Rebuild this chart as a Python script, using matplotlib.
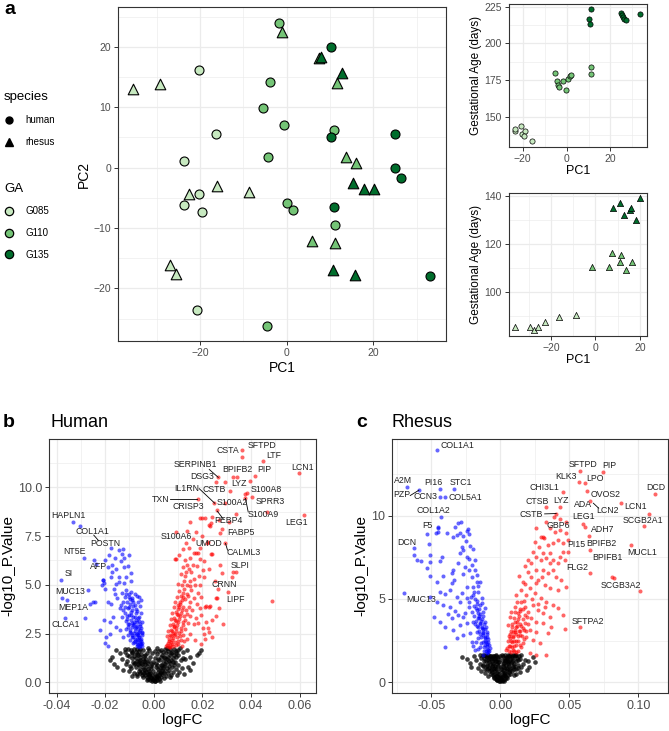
import numpy as np
import matplotlib
matplotlib.use("Agg")
import matplotlib.pyplot as plt
from matplotlib.lines import Line2D
from matplotlib.ticker import MultipleLocator, FormatStrFormatter

plt.rcParams['font.family'] = ['Liberation Sans', 'DejaVu Sans']

# ---------------- panel a: PCA ----------------
ga_levels = ['G085', 'G110', 'G135']
ga_colors = {'G085': '#c7e9c0', 'G110': '#74c476', 'G135': '#006d2c'}

human_pc1 = {
    'G085': [-20.2, -16.4, -23.7, -20.2, -23.7, -19.6, -20.8],
    'G110': [-1.9, -3.8, -5.5, -0.6, -4.3, 0.1, 1.5, 11.0, 11.2, -4.5],
    'G135': [10.2, 10.2, 11.0, 25.1, 25.0, 26.4, 33.2],
}
human_pc2 = {
    'G085': [16.2, 5.5, 1.1, -4.4, -6.2, -7.3, -23.6],
    'G110': [24.0, 14.2, 9.9, 7.0, 1.8, -5.9, -7.0, 6.2, -9.5, -26.2],
    'G135': [19.9, 5.0, -6.5, 5.5, -0.1, -1.7, -18.0],
}
rhesus_pc1 = {
    'G085': [-35.5, -29.2, -22.5, -16.2, -8.8, -26.9, -25.5],
    'G110': [-1.2, 7.4, 11.5, 13.6, 16.0, 5.9, 11.1],
    'G135': [7.8, 12.7, 15.2, 17.9, 20.2, 10.8, 15.7],
}
rhesus_pc2 = {
    'G085': [13.0, 13.8, -4.3, -3.0, -4.1, -16.1, -17.6],
    'G110': [22.5, 18.1, 14.0, 1.8, 0.7, -12.2, -12.5],
    'G135': [18.3, 15.6, -2.5, -3.5, -3.5, -17.0, -17.8],
}

# gestational age vs PC1 (separate species PCA)
hs_ga_pc1 = {
    'G085': [-23.7, -23.4, -20.6, -20.2, -19.1, -19.5, -16.0],
    'G110': [-5.3, -4.4, -4.0, -3.4, -1.8, -0.5, 0.5, 1.5, 2.1, 11.3, 11.3],
    'G135': [11.3, 10.4, 10.7, 25.0, 25.3, 25.6, 26.3, 26.9, 33.6],
}
hs_ga_days = {
    'G085': [140.5, 142.0, 144.1, 138.6, 140.5, 137.0, 133.6],
    'G110': [180.0, 174.3, 171.6, 170.5, 174.1, 168.6, 176.1, 177.7, 178.4, 184.1, 179.1],
    'G135': [223.2, 216.4, 213.2, 220.5, 219.1, 217.7, 216.6, 215.9, 220.0],
}
rh_ga_pc1 = {
    'G085': [-36.2, -29.6, -27.5, -25.9, -22.9, -16.6, -8.9],
    'G110': [-1.4, 5.9, 7.4, 11.6, 11.2, 13.9, 16.4],
    'G135': [7.8, 10.9, 12.7, 15.4, 16.0, 18.3, 20.2],
}
rh_ga_days = {
    'G085': [85.6, 85.6, 84.4, 85.4, 87.5, 89.6, 90.6],
    'G110': [110.4, 110.4, 116.5, 115.6, 112.5, 109.4, 112.5],
    'G135': [135.3, 137.2, 132.4, 134.4, 135.3, 130.3, 139.3],
}

# ---------------- panel b: human volcano ----------------
human_down = [
    (-0.0332, 8.20), (-0.0302, 8.03), (-0.0287, 6.40), (-0.0382, 5.26), (-0.0269, 4.73),
    (-0.0376, 4.30), (-0.0356, 4.21), (-0.0364, 3.32), (-0.0283, 3.30), (-0.0248, 6.27),
    (-0.0236, 6.05), (-0.0209, 5.27), (-0.0205, 5.07), (-0.0250, 4.13), (-0.0203, 3.20),
    (-0.0195, 2.33), (-0.0187, 1.88),
    (-0.0174, 6.90), (-0.0143, 6.78), (-0.0126, 6.83), (-0.0132, 6.58), (-0.0102, 6.52),
    (-0.0121, 6.35), (-0.0202, 6.27), (-0.0172, 6.01), (-0.0154, 5.79), (-0.0124, 5.89),
    (-0.0095, 5.62), (-0.0170, 5.67), (-0.0209, 5.24), (-0.0213, 4.98), (-0.0178, 5.41),
    (-0.0143, 5.15), (-0.0122, 5.10), (-0.0092, 5.21), (-0.0165, 4.81), (-0.0113, 4.73),
    (-0.0092, 4.64), (-0.0078, 4.52), (-0.0115, 4.52), (-0.0104, 4.35), (-0.0088, 4.30),
    (-0.0070, 4.42), (-0.0060, 4.38), (-0.0054, 4.21), (-0.0099, 4.04), (-0.0084, 4.11),
    (-0.0065, 4.13), (-0.0055, 3.92), (-0.0074, 3.78), (-0.0091, 3.70), (-0.0126, 3.70),
    (-0.0140, 3.80), (-0.0178, 4.04), (-0.0202, 4.81), (-0.0188, 4.13), (-0.0243, 4.13),
    (-0.0129, 3.36), (-0.0110, 3.27), (-0.0092, 3.44), (-0.0078, 3.36), (-0.0062, 3.36),
    (-0.0051, 3.53), (-0.0071, 3.10), (-0.0088, 3.05), (-0.0102, 2.98), (-0.0058, 3.01),
    (-0.0048, 3.10), (-0.0167, 3.36), (-0.0181, 3.10), (-0.0154, 2.84), (-0.0140, 2.67),
    (-0.0115, 2.71), (-0.0096, 2.67), (-0.0078, 2.76), (-0.0065, 2.71), (-0.0054, 2.81),
    (-0.0047, 2.59), (-0.0071, 2.50), (-0.0088, 2.41), (-0.0106, 2.45), (-0.0126, 2.33),
    (-0.0062, 2.33), (-0.0051, 2.24), (-0.0078, 2.24), (-0.0096, 2.16), (-0.0071, 2.07),
    (-0.0058, 2.02), (-0.0047, 1.99), (-0.0085, 1.99), (-0.0065, 1.90), (-0.0055, 1.85),
    (-0.0181, 2.50), (-0.0200, 1.99), (-0.0222, 2.67), (-0.0264, 4.04),
    (-0.0060, 2.60), (-0.0068, 2.90), (-0.0075, 3.20), (-0.0082, 3.00), (-0.0057, 2.15),
    (-0.0063, 2.45), (-0.0070, 2.20), (-0.0080, 2.55), (-0.0090, 2.85), (-0.0052, 1.95),
    (-0.0060, 1.80), (-0.0068, 1.95), (-0.0076, 2.10), (-0.0085, 2.30), (-0.0095, 2.55),
    (-0.0105, 2.85), (-0.0113, 3.15), (-0.0050, 2.40), (-0.0055, 2.70), (-0.0062, 3.15),
    (-0.0073, 3.55), (-0.0085, 3.90), (-0.0097, 4.25), (-0.0110, 4.10), (-0.0120, 4.35),
    (-0.0130, 4.60), (-0.0100, 3.45), (-0.0108, 3.80), (-0.0118, 3.55), (-0.0135, 3.95),
    (-0.0150, 4.30), (-0.0160, 4.55), (-0.0145, 5.40), (-0.0155, 5.05), (-0.0115, 5.40),
    (-0.0105, 5.95), (-0.0135, 6.20), (-0.0160, 6.40), (-0.0185, 6.55), (-0.0190, 5.90),
    (-0.0053, 2.10), (-0.0059, 2.30), (-0.0066, 2.55), (-0.0073, 2.82), (-0.0080, 3.10),
    (-0.0087, 3.35), (-0.0094, 3.60), (-0.0100, 3.85), (-0.0049, 1.88), (-0.0057, 1.98),
    (-0.0064, 2.18), (-0.0072, 2.40), (-0.0079, 2.65), (-0.0086, 2.92), (-0.0093, 3.22),
    (-0.0050, 2.55), (-0.0056, 2.88), (-0.0064, 3.30), (-0.0069, 3.65), (-0.0078, 3.95),
    (-0.0088, 4.20), (-0.0070, 1.85), (-0.0080, 2.05), (-0.0090, 2.30), (-0.0098, 2.60),
    (-0.0106, 3.00), (-0.0112, 3.40), (-0.0120, 3.85), (-0.0125, 4.10), (-0.0104, 4.55),
]
human_up = [
    (0.0364, 11.92), (0.0362, 11.58), (0.0450, 11.35), (0.0417, 10.60), (0.0599, 10.72),
    (0.0262, 10.51), (0.0327, 10.55), (0.0342, 10.55), (0.0255, 10.26), (0.0291, 10.26),
    (0.0313, 9.79), (0.0397, 10.34), (0.0375, 9.66), (0.0382, 9.73), (0.0404, 9.52),
    (0.0377, 9.43), (0.0248, 9.18), (0.0180, 9.40), (0.0292, 9.18), (0.0261, 8.84),
    (0.0464, 8.75), (0.0340, 8.63), (0.0618, 8.60), (0.0199, 8.44), (0.0148, 8.20),
    (0.0239, 8.49), (0.0269, 8.30), (0.0231, 8.01), (0.0310, 8.24), (0.0279, 7.84),
    (0.0272, 7.64), (0.0093, 7.72), (0.0135, 7.74), (0.0199, 7.52), (0.0292, 7.12),
    (0.0132, 7.14), (0.0224, 7.21), (0.0189, 6.90), (0.0172, 6.64), (0.0166, 6.61),
    (0.0240, 6.56), (0.0206, 6.20), (0.0088, 6.34), (0.0272, 6.04), (0.0324, 5.68),
    (0.0340, 5.68), (0.0320, 5.38), (0.0307, 4.61), (0.0485, 4.18), (0.0258, 4.30),
    (0.0228, 3.87), (0.0210, 3.87), (0.0283, 3.01), (0.0224, 2.77), (0.0239, 2.33),
    (0.0196, 1.95), (0.0170, 2.19),
    (0.0189, 8.41), (0.0210, 8.41), (0.0237, 8.15), (0.0228, 8.05), (0.0173, 7.72),
    (0.0217, 7.16), (0.0181, 6.61), (0.0148, 6.35), (0.0128, 6.27), (0.0091, 6.30),
    (0.0138, 6.00), (0.0121, 5.90), (0.0144, 5.80), (0.0134, 5.65), (0.0155, 5.65),
    (0.0178, 5.95), (0.0203, 5.75), (0.0207, 5.40), (0.0184, 5.45), (0.0165, 5.30),
    (0.0148, 5.20), (0.0255, 4.30), (0.0231, 3.90), (0.0214, 3.90), (0.0155, 4.73),
    (0.0135, 4.55), (0.0121, 4.38), (0.0107, 4.13), (0.0101, 3.96), (0.0148, 4.13),
    (0.0165, 4.30), (0.0176, 4.04), (0.0189, 3.79), (0.0196, 3.45), (0.0173, 3.28),
    (0.0182, 3.02), (0.0203, 2.76), (0.0210, 2.24),
    (0.0052, 1.85), (0.0058, 2.00), (0.0062, 2.20), (0.0067, 2.45), (0.0072, 2.70),
    (0.0078, 3.00), (0.0085, 3.30), (0.0092, 3.60), (0.0055, 2.35), (0.0060, 2.65),
    (0.0065, 2.95), (0.0070, 3.25), (0.0075, 3.55), (0.0082, 3.85), (0.0068, 1.90),
    (0.0075, 2.15), (0.0082, 2.40), (0.0090, 2.65), (0.0097, 2.95), (0.0105, 3.25),
    (0.0112, 3.55), (0.0120, 3.85), (0.0080, 1.85), (0.0088, 2.05), (0.0095, 2.30),
    (0.0103, 2.55), (0.0110, 2.80), (0.0118, 3.10), (0.0126, 3.40), (0.0133, 3.70),
    (0.0100, 1.95), (0.0110, 2.15), (0.0120, 2.45), (0.0130, 2.75), (0.0140, 3.05),
    (0.0150, 3.40), (0.0086, 4.10), (0.0095, 4.40), (0.0105, 4.70), (0.0115, 5.00),
    (0.0125, 5.20), (0.0098, 5.05), (0.0110, 5.55), (0.0112, 4.45), (0.0125, 4.80),
    (0.0138, 5.00), (0.0158, 3.70), (0.0165, 3.00), (0.0150, 2.50), (0.0135, 2.20),
    (0.0062, 1.80), (0.0072, 2.05), (0.0078, 2.55), (0.0085, 2.85), (0.0090, 3.15),
    (0.0098, 3.45), (0.0105, 3.85), (0.0115, 4.20), (0.0128, 4.25), (0.0140, 4.45),
    (0.0180, 4.60), (0.0190, 5.00), (0.0195, 4.40), (0.0170, 5.00), (0.0160, 6.00),
    (0.0145, 6.90), (0.0163, 7.35), (0.0120, 6.85), (0.0105, 6.55), (0.0192, 6.30),
    (0.0225, 5.80), (0.0235, 6.60), (0.0250, 5.20), (0.0265, 4.80), (0.0280, 5.60),
    (0.0255, 3.40), (0.0270, 3.80), (0.0240, 3.20), (0.0215, 3.10), (0.0228, 2.60),
    (0.0205, 2.50),
    (0.0056, 1.92), (0.0064, 2.10), (0.0070, 2.35), (0.0076, 2.62), (0.0083, 2.90),
    (0.0088, 3.20), (0.0095, 3.50), (0.0100, 3.75), (0.0066, 1.82), (0.0073, 1.98),
    (0.0080, 2.25), (0.0087, 2.50), (0.0093, 2.78), (0.0100, 3.08), (0.0107, 3.40),
    (0.0115, 3.70), (0.0090, 1.90), (0.0098, 2.12), (0.0106, 2.38), (0.0113, 2.62),
    (0.0122, 2.92), (0.0128, 3.20), (0.0136, 3.50), (0.0108, 4.00), (0.0118, 4.60),
    (0.0130, 5.45), (0.0150, 4.95), (0.0143, 3.85), (0.0125, 2.10), (0.0115, 1.85),
]
human_ns = [
    (-0.0008, 0.05), (0.0005, 0.04), (0.0012, 0.10), (-0.0015, 0.12), (0.0020, 0.15),
    (-0.0022, 0.18), (0.0003, 0.08), (-0.0004, 0.15), (0.0009, 0.20), (-0.0030, 0.25),
    (0.0028, 0.28), (-0.0018, 0.30), (0.0015, 0.33), (-0.0036, 0.38), (0.0035, 0.40),
    (-0.0025, 0.45), (0.0024, 0.47), (-0.0008, 0.35), (0.0006, 0.42), (-0.0042, 0.48),
    (0.0042, 0.50), (-0.0048, 0.55), (0.0047, 0.58), (-0.0035, 0.62), (0.0033, 0.65),
    (-0.0020, 0.60), (0.0018, 0.70), (-0.0055, 0.70), (0.0054, 0.72), (-0.0045, 0.80),
    (0.0043, 0.82), (-0.0030, 0.85), (0.0028, 0.88), (-0.0060, 0.88), (0.0062, 0.86),
    (-0.0012, 0.75), (0.0010, 0.80), (-0.0065, 0.95), (0.0066, 0.98), (-0.0052, 1.00),
    (0.0050, 1.02), (-0.0038, 1.05), (0.0036, 1.08), (-0.0070, 1.10), (0.0072, 1.12),
    (-0.0058, 1.15), (0.0056, 1.18), (-0.0045, 1.20), (0.0044, 1.22), (-0.0075, 1.25),
    (0.0078, 1.25), (-0.0025, 1.00), (0.0022, 1.15), (-0.0085, 1.05), (0.0088, 1.05),
    (-0.0080, 1.35), (0.0082, 1.38), (-0.0066, 1.40), (0.0065, 1.42), (-0.0052, 1.45),
    (0.0050, 1.48), (-0.0090, 1.50), (0.0092, 1.50), (-0.0075, 1.55), (0.0076, 1.56),
    (-0.0060, 1.60), (0.0060, 1.62), (-0.0095, 1.65), (0.0098, 1.66), (-0.0082, 1.70),
    (0.0085, 1.70), (-0.0068, 1.72), (0.0068, 1.73), (-0.0105, 1.72), (0.0108, 1.74),
    (-0.0040, 1.35), (0.0038, 1.55),
    (-0.0181, 1.13), (-0.0165, 0.96), (-0.0170, 1.30), (-0.0150, 0.80), (-0.0140, 1.50),
    (-0.0125, 0.65), (-0.0130, 1.20), (-0.0115, 0.95), (-0.0110, 1.40), (-0.0100, 0.60),
    (-0.0098, 0.85), (0.0148, 0.62), (0.0140, 0.80), (0.0176, 1.39), (0.0196, 1.64),
    (0.0185, 1.50), (0.0160, 1.00), (0.0125, 0.45), (0.0115, 0.75), (0.0130, 1.20),
    (0.0105, 0.55), (0.0100, 0.90), (0.0120, 1.55), (0.0150, 1.30), (-0.0155, 1.65),
    (-0.0120, 1.70), (0.0135, 1.68), (-0.0080, 0.50), (0.0080, 0.55), (-0.0070, 0.40),
    (0.0072, 0.38), (0.0095, 0.35), (-0.0090, 0.30),
    (-0.0010, 0.25), (0.0010, 0.30), (-0.0015, 0.50), (0.0016, 0.55), (-0.0025, 0.70),
    (0.0026, 0.72), (-0.0008, 0.95), (0.0008, 1.00), (-0.0032, 1.20), (0.0030, 1.30),
    (-0.0015, 1.30), (0.0015, 1.45), (-0.0028, 1.50), (0.0028, 1.65), (-0.0045, 1.65),
    (0.0045, 1.70), (-0.0018, 1.65), (0.0012, 1.75), (-0.0050, 0.35), (0.0050, 0.30),
    (-0.0062, 0.60), (0.0063, 0.62), (-0.0072, 0.78), (0.0073, 0.80), (-0.0082, 0.95),
    (0.0082, 0.90), (-0.0088, 1.25), (0.0090, 1.30), (-0.0055, 1.32), (0.0057, 1.30),
    (-0.0035, 0.95), (0.0035, 0.90), (-0.0005, 0.60), (0.0004, 1.25), (-0.0008, 1.50),
    (-0.0003, 0.10), (0.0002, 0.20), (-0.0012, 0.20), (0.0018, 0.25), (-0.0020, 0.40),
    (0.0022, 0.38), (-0.0032, 0.55), (0.0030, 0.55), (-0.0040, 0.70), (0.0038, 0.72),
    (-0.0010, 0.85), (0.0012, 0.90), (-0.0048, 0.92), (0.0046, 0.95), (-0.0020, 1.10),
    (0.0018, 1.20), (-0.0062, 1.10), (0.0062, 1.08), (-0.0035, 1.40), (0.0034, 1.40),
    (-0.0070, 1.45), (0.0070, 1.50), (-0.0055, 1.70), (0.0055, 1.75), (-0.0025, 1.75),
    (0.0022, 1.60), (-0.0088, 1.55), (0.0090, 1.60), (-0.0100, 1.35), (0.0100, 1.40),
    (-0.0078, 1.00), (0.0078, 1.02), (-0.0092, 0.75), (0.0092, 0.70), (-0.0057, 0.50),
    (0.0058, 0.48), (-0.0045, 0.25), (0.0040, 0.22), (-0.0028, 0.10), (0.0025, 0.08),
    (-0.0112, 1.10), (0.0112, 1.15), (-0.0118, 1.55), (0.0118, 1.25), (-0.0068, 0.30),
    (0.0066, 0.25), (-0.0005, 1.05), (0.0005, 1.60), (-0.0040, 1.10), (0.0040, 1.30),
]
human_genes = ['SFTPD', 'CSTA', 'LTF', 'PIP', 'LCN1', 'SERPINB1', 'BPIFB2', 'DSG3', 'LYZ',
               'IL1RN', 'CSTB', 'TXN', 'CRISP3', 'S100A2', 'S100A8', 'SPRR3', 'S100A9',
               'PEBP4', 'LEG1', 'FABP5', 'S100A6', 'UMOD', 'CALML3', 'SLPI', 'CRNN', 'LIPF',
               'HAPLN1', 'COL1A1', 'POSTN', 'NT5E', 'AFP', 'SI', 'MUC13', 'MEP1A', 'CLCA1']

# ---------------- panel c: rhesus volcano ----------------
rhesus_down = [
    (-0.0457, 13.93), (-0.0678, 11.70), (-0.0591, 11.52), (-0.0438, 11.62), (-0.0337, 11.60),
    (-0.0438, 11.14), (-0.0401, 11.12), (-0.0430, 9.94), (-0.0466, 8.98), (-0.0534, 8.88),
    (-0.0452, 9.30), (-0.0625, 8.04), (-0.0697, 5.33),
    (-0.0630, 7.64), (-0.0606, 7.33), (-0.0577, 7.29), (-0.0514, 7.64), (-0.0510, 7.23),
    (-0.0438, 7.29), (-0.0425, 7.54), (-0.0341, 6.73), (-0.0353, 6.53), (-0.0305, 7.13),
    (-0.0293, 7.74), (-0.0281, 8.14), (-0.0269, 7.94), (-0.0240, 7.54), (-0.0233, 9.18),
    (-0.0228, 7.40), (-0.0305, 9.54), (-0.0289, 9.60), (-0.0329, 9.34), (-0.0389, 8.98),
    (-0.0240, 9.10), (-0.0228, 8.90), (-0.0293, 8.94), (-0.0317, 8.84), (-0.0346, 8.74),
    (-0.0450, 9.28), (-0.0454, 9.00), (-0.0517, 8.30), (-0.0534, 6.83), (-0.0514, 6.37),
    (-0.0462, 6.03), (-0.0413, 6.37), (-0.0353, 5.93), (-0.0336, 6.13), (-0.0226, 6.73),
    (-0.0269, 6.49), (-0.0209, 6.33), (-0.0185, 6.73), (-0.0173, 6.03), (-0.0197, 5.73),
    (-0.0245, 5.73), (-0.0281, 5.33), (-0.0317, 5.13), (-0.0365, 5.53), (-0.0401, 5.29),
    (-0.0438, 5.43), (-0.0510, 5.13), (-0.0462, 4.83), (-0.0413, 4.63), (-0.0365, 4.53),
    (-0.0293, 4.83), (-0.0245, 5.03), (-0.0197, 5.23), (-0.0161, 5.43), (-0.0137, 5.03),
    (-0.0149, 4.63), (-0.0173, 4.33), (-0.0209, 4.23), (-0.0257, 4.13), (-0.0305, 4.03),
    (-0.0353, 3.83), (-0.0437, 3.63), (-0.0485, 3.93), (-0.0401, 3.33), (-0.0341, 3.13),
    (-0.0293, 3.43), (-0.0245, 3.53), (-0.0197, 3.63), (-0.0161, 3.83), (-0.0125, 4.23),
    (-0.0113, 3.63), (-0.0137, 3.33), (-0.0173, 3.03), (-0.0221, 2.93), (-0.0269, 2.83),
    (-0.0317, 2.63), (-0.0401, 2.12), (-0.0209, 2.43), (-0.0161, 2.63), (-0.0125, 2.83),
    (-0.0101, 3.03), (-0.0089, 2.43), (-0.0113, 2.23), (-0.0149, 2.13), (-0.0185, 1.93),
    (-0.0089, 1.83), (-0.0101, 1.73), (-0.0125, 1.63), (-0.0077, 2.03), (-0.0137, 4.73),
    (-0.0113, 4.43), (-0.0149, 6.03), (-0.0173, 6.43), (-0.0209, 7.03), (-0.0257, 6.93),
    (-0.0220, 8.20), (-0.0250, 8.50), (-0.0270, 8.80), (-0.0200, 8.00), (-0.0185, 7.35),
    (-0.0160, 5.80), (-0.0130, 3.95), (-0.0105, 3.30), (-0.0095, 2.70), (-0.0082, 2.25),
    (-0.0100, 2.00), (-0.0115, 2.50), (-0.0130, 3.00), (-0.0145, 3.50), (-0.0155, 4.00),
    (-0.0170, 4.90), (-0.0190, 4.60), (-0.0230, 4.50), (-0.0270, 3.90), (-0.0330, 4.30),
    (-0.0380, 4.10), (-0.0150, 2.90), (-0.0175, 2.40), (-0.0200, 2.15), (-0.0120, 1.90),
    (-0.0140, 2.35), (-0.0090, 1.95), (-0.0110, 2.70), (-0.0125, 3.20), (-0.0140, 3.70),
    (-0.0160, 3.30), (-0.0185, 3.50), (-0.0100, 2.30), (-0.0165, 2.00),
    (-0.0085, 1.90), (-0.0095, 2.15), (-0.0105, 2.40), (-0.0115, 2.65), (-0.0125, 2.95),
    (-0.0135, 3.25), (-0.0145, 3.55), (-0.0155, 3.85), (-0.0165, 4.15), (-0.0175, 4.45),
    (-0.0105, 1.85), (-0.0118, 2.10), (-0.0130, 2.40), (-0.0142, 2.70), (-0.0155, 3.05),
    (-0.0168, 3.35), (-0.0180, 3.70), (-0.0192, 4.00), (-0.0092, 2.60), (-0.0100, 2.90),
    (-0.0110, 3.20), (-0.0120, 3.50), (-0.0132, 3.80), (-0.0145, 4.10), (-0.0158, 4.40),
    (-0.0170, 4.70), (-0.0182, 5.00), (-0.0195, 5.40), (-0.0210, 5.10), (-0.0225, 4.80),
]
rhesus_up = [
    (0.0577, 12.67), (0.0740, 12.59), (0.0567, 12.04), (0.0615, 11.94), (0.0625, 11.50),
    (0.0452, 11.40), (0.1118, 11.32), (0.0332, 10.50), (0.0435, 10.50), (0.0651, 10.88),
    (0.0873, 10.74), (0.0404, 10.12), (0.1077, 10.12), (0.1041, 9.40), (0.0601, 9.50),
    (0.0615, 9.34), (0.0644, 8.80), (0.0649, 7.92), (0.0945, 8.22), (0.0649, 6.55),
    (0.0808, 6.29), (0.0825, 6.25), (0.1010, 5.47), (0.0577, 3.31), (0.0464, 3.17),
    (0.0488, 7.82), (0.0476, 9.64), (0.0474, 8.94), (0.0435, 9.14), (0.0356, 9.24),
    (0.0260, 9.24), (0.0308, 8.70), (0.0452, 8.34), (0.0488, 8.54), (0.0418, 8.54),
    (0.0296, 8.74), (0.0313, 8.64), (0.0344, 8.24), (0.0380, 8.34), (0.0392, 9.04),
    (0.0428, 9.78), (0.0356, 7.74), (0.0308, 7.74), (0.0260, 7.54), (0.0236, 7.84),
    (0.0200, 7.33), (0.0296, 7.33), (0.0332, 7.43), (0.0380, 7.33), (0.0428, 7.54),
    (0.0452, 7.84), (0.0464, 7.33), (0.0416, 7.13), (0.0356, 7.13), (0.0308, 6.73),
    (0.0260, 6.73), (0.0224, 7.13), (0.0163, 6.03), (0.0224, 6.33), (0.0272, 6.13),
    (0.0344, 6.53), (0.0380, 6.73), (0.0404, 6.33), (0.0440, 6.13), (0.0476, 5.73),
    (0.0416, 5.53), (0.0356, 5.63), (0.0320, 5.83), (0.0260, 5.93), (0.0212, 5.63),
    (0.0151, 5.53), (0.0115, 5.23), (0.0188, 5.23), (0.0248, 5.33), (0.0296, 5.03),
    (0.0332, 4.83), (0.0380, 4.63), (0.0416, 4.43), (0.0452, 4.03), (0.0368, 3.33),
    (0.0356, 3.93), (0.0308, 4.13), (0.0272, 4.33), (0.0236, 4.63), (0.0151, 4.83),
    (0.0103, 4.53), (0.0079, 4.23), (0.0127, 4.13), (0.0176, 4.03), (0.0224, 3.83),
    (0.0260, 3.63), (0.0308, 3.53), (0.0344, 2.93), (0.0260, 3.03), (0.0212, 3.13),
    (0.0163, 3.23), (0.0103, 3.63), (0.0067, 3.93), (0.0055, 3.43), (0.0091, 3.03),
    (0.0139, 2.83), (0.0188, 2.73), (0.0236, 2.53), (0.0284, 2.33), (0.0163, 2.33),
    (0.0115, 2.23), (0.0067, 2.63), (0.0043, 1.93), (0.0079, 1.83), (0.0212, 1.73),
    (0.0260, 1.63), (0.0332, 1.63), (0.0060, 2.20), (0.0070, 2.90), (0.0085, 3.30),
    (0.0095, 2.50), (0.0110, 2.90), (0.0120, 3.40), (0.0130, 3.80), (0.0145, 3.50),
    (0.0160, 3.80), (0.0140, 4.40), (0.0120, 4.80), (0.0180, 4.50), (0.0200, 4.20),
    (0.0200, 3.50), (0.0185, 3.10), (0.0170, 2.60), (0.0150, 2.10), (0.0130, 1.90),
    (0.0100, 1.90), (0.0085, 2.10), (0.0075, 2.50), (0.0090, 2.75), (0.0105, 3.15),
    (0.0125, 2.50), (0.0140, 3.10), (0.0175, 5.90), (0.0200, 6.60), (0.0180, 7.00),
    (0.0135, 6.40), (0.0280, 8.10), (0.0250, 8.40), (0.0330, 9.60), (0.0390, 9.90),
    (0.0300, 6.30), (0.0230, 5.00), (0.0270, 4.70), (0.0320, 4.50),
    (0.0050, 2.05), (0.0058, 2.45), (0.0065, 2.75), (0.0075, 3.10), (0.0085, 3.50),
    (0.0095, 3.85), (0.0105, 4.20), (0.0060, 1.85), (0.0072, 2.15), (0.0082, 2.40),
    (0.0092, 2.70), (0.0102, 3.00), (0.0112, 3.30), (0.0122, 3.60), (0.0132, 3.95),
    (0.0142, 4.25), (0.0088, 1.95), (0.0100, 2.20), (0.0112, 2.45), (0.0124, 2.75),
    (0.0136, 3.05), (0.0148, 3.35), (0.0155, 2.80), (0.0168, 3.15), (0.0178, 3.55),
    (0.0190, 3.90), (0.0110, 1.80), (0.0140, 2.25), (0.0160, 4.40), (0.0170, 4.90),
]
rhesus_ns = [
    (-0.0010, 0.05), (0.0008, 0.06), (0.0018, 0.12), (-0.0022, 0.14), (0.0030, 0.20),
    (-0.0033, 0.22), (0.0004, 0.15), (-0.0006, 0.25), (0.0012, 0.30), (-0.0045, 0.30),
    (0.0042, 0.32), (-0.0027, 0.38), (0.0024, 0.42), (-0.0054, 0.45), (0.0052, 0.46),
    (-0.0038, 0.52), (0.0036, 0.55), (-0.0012, 0.50), (0.0010, 0.60), (-0.0063, 0.60),
    (0.0064, 0.62), (-0.0072, 0.72), (0.0072, 0.75), (-0.0050, 0.78), (0.0048, 0.80),
    (-0.0030, 0.82), (0.0028, 0.85), (-0.0085, 0.88), (0.0088, 0.90), (-0.0062, 0.95),
    (0.0060, 0.98), (-0.0040, 1.00), (0.0040, 1.02), (-0.0018, 0.95), (0.0016, 1.10),
    (-0.0095, 1.05), (0.0098, 1.08), (-0.0075, 1.12), (0.0076, 1.15), (-0.0052, 1.18),
    (0.0054, 1.20), (-0.0030, 1.25), (0.0030, 1.28), (-0.0105, 1.25), (0.0110, 1.28),
    (-0.0088, 1.32), (0.0090, 1.35), (-0.0065, 1.38), (0.0066, 1.40), (-0.0042, 1.42),
    (0.0044, 1.45), (-0.0118, 1.45), (0.0122, 1.48), (-0.0100, 1.52), (0.0102, 1.55),
    (-0.0078, 1.55), (0.0080, 1.58), (-0.0055, 1.60), (0.0056, 1.62), (-0.0130, 1.62),
    (0.0135, 1.60), (-0.0112, 1.66), (0.0115, 1.66), (-0.0020, 1.40), (0.0020, 1.55),
    (-0.0035, 1.62), (0.0036, 1.65),
    (-0.0280, 1.52), (-0.0220, 1.16), (-0.0210, 0.92), (-0.0180, 1.32), (-0.0160, 0.85),
    (-0.0150, 1.10), (-0.0140, 0.70), (-0.0125, 0.95), (-0.0190, 1.55), (-0.0245, 1.40),
    (0.0163, 1.12), (0.0236, 1.52), (0.0210, 0.92), (0.0190, 0.75), (0.0175, 1.35),
    (0.0150, 0.90), (0.0140, 0.60), (0.0125, 1.05), (0.0200, 1.30), (0.0250, 1.20),
    (-0.0110, 0.55), (0.0110, 0.50), (-0.0090, 0.40), (0.0095, 0.42),
    (-0.0015, 0.70), (0.0015, 0.75), (-0.0045, 0.65), (0.0045, 0.68), (-0.0025, 1.10),
    (0.0025, 1.15), (-0.0060, 1.25), (0.0060, 1.30), (-0.0080, 1.20), (0.0082, 1.22),
    (-0.0010, 1.20), (0.0010, 1.35), (-0.0050, 1.48), (0.0050, 1.50), (-0.0068, 1.60),
    (0.0070, 1.62), (-0.0090, 1.62), (0.0092, 1.65), (-0.0030, 1.55), (0.0030, 1.45),
    (0.0000, 0.90), (0.0000, 1.60), (-0.0070, 0.85), (0.0068, 0.88), (-0.0100, 0.80),
    (0.0100, 0.78),
    (-0.0002, 0.10), (0.0005, 0.25), (-0.0015, 0.30), (0.0020, 0.35), (-0.0028, 0.55),
    (0.0026, 0.58), (-0.0042, 0.85), (0.0040, 0.88), (-0.0005, 0.40), (0.0003, 0.80),
    (-0.0055, 1.05), (0.0055, 1.08), (-0.0038, 1.30), (0.0036, 1.32), (-0.0015, 1.50),
    (0.0012, 1.62), (-0.0085, 1.45), (0.0085, 1.48), (-0.0105, 1.60), (0.0105, 1.62),
    (-0.0120, 1.30), (0.0125, 1.35), (-0.0095, 0.95), (0.0095, 0.98), (-0.0070, 0.50),
    (0.0070, 0.52), (-0.0050, 0.25), (0.0048, 0.28), (-0.0025, 0.15), (0.0022, 0.05),
    (-0.0140, 1.45), (0.0145, 1.40), (-0.0150, 1.65), (0.0150, 1.62), (-0.0130, 1.05),
    (0.0130, 0.85), (-0.0080, 0.65), (0.0080, 0.65), (-0.0060, 1.45), (0.0060, 1.55),
    (-0.0020, 1.20), (0.0020, 0.95), (-0.0045, 1.55), (0.0045, 1.25), (-0.0110, 0.80),
    (0.0115, 0.80), (-0.0035, 0.40), (0.0035, 0.45),
]
rhesus_genes = ['COL1A1', 'A2M', 'PZP', 'PI16', 'STC1', 'CCN3', 'COL5A1', 'COL1A2', 'F5',
                'DCN', 'MUC13', 'SFTPD', 'PIP', 'KLK3', 'LPO', 'CHI3L1', 'OVOS2', 'DCD',
                'CTSB', 'LYZ', 'ADA', 'LCN2', 'LCN1', 'CSTB', 'LEG1', 'SCGB2A1', 'GBP6',
                'ADH7', 'PI15', 'BPIFB2', 'MUCL1', 'BPIFB1', 'FLG2', 'SCGB3A2', 'SFTPA2']

# label placement (layout only)
human_label_pos = {
    'SFTPD': (0.0445, 12.17), 'CSTA': (0.0303, 11.90), 'LTF': (0.0494, 11.61),
    'PIP': (0.0454, 10.94), 'LCN1': (0.0612, 11.03), 'SERPINB1': (0.0173, 11.15),
    'BPIFB2': (0.0342, 10.92), 'DSG3': (0.0199, 10.55), 'LYZ': (0.0351, 10.21),
    'IL1RN': (0.0136, 9.95), 'CSTB': (0.0248, 9.90), 'TXN': (0.0026, 9.37),
    'CRISP3': (0.0141, 9.04), 'S100A2': (0.0324, 9.23), 'S100A8': (0.0464, 9.91),
    'SPRR3': (0.0478, 9.25), 'S100A9': (0.0450, 8.63), 'PEBP4': (0.0305, 8.30),
    'LEG1': (0.0588, 8.20), 'FABP5': (0.0360, 7.67), 'S100A6': (0.0093, 7.47),
    'UMOD': (0.0226, 7.14), 'CALML3': (0.0369, 6.64), 'SLPI': (0.0354, 6.01),
    'CRNN': (0.0291, 5.02), 'LIPF': (0.0335, 4.25), 'HAPLN1': (-0.0353, 8.54),
    'COL1A1': (-0.0253, 7.76), 'POSTN': (-0.0200, 7.12), 'NT5E': (-0.0327, 6.73),
    'AFP': (-0.0229, 5.92), 'SI': (-0.0351, 5.58), 'MUC13': (-0.0342, 4.67),
    'MEP1A': (-0.0331, 3.82), 'CLCA1': (-0.0364, 2.96),
}
human_segments = [((0.0066, 9.40), (0.0176, 9.40)), ((0.0187, 9.93), (0.0251, 9.18)),
                  ((0.0228, 10.92), (0.0265, 10.51)), ((-0.0247, 7.55), (-0.0226, 7.25)),
                  ((0.0261, 8.78), (0.0286, 8.37)), ((0.0377, 9.43), (0.0388, 8.75)),
                  ((0.0295, 7.12), (0.0303, 6.78))]
rhesus_label_pos = {
    'COL1A1': (-0.0310, 14.23), 'A2M': (-0.0709, 12.10), 'PZP': (-0.0712, 11.24),
    'PI16': (-0.0486, 11.96), 'STC1': (-0.0286, 11.96), 'CCN3': (-0.0543, 11.12),
    'COL5A1': (-0.0257, 11.08), 'COL1A2': (-0.0483, 10.32), 'F5': (-0.0529, 9.38),
    'DCN': (-0.0678, 8.38), 'MUC13': (-0.0577, 4.97), 'SFTPD': (0.0601, 13.05),
    'PIP': (0.0788, 12.99), 'KLK3': (0.0476, 12.34), 'LPO': (0.0688, 12.20),
    'CHI3L1': (0.0322, 11.66), 'OVOS2': (0.0760, 11.28), 'DCD': (0.1125, 11.70),
    'CTSB': (0.0264, 10.86), 'LYZ': (0.0442, 10.90), 'ADA': (0.0596, 10.64),
    'LCN2': (0.0779, 10.32), 'LCN1': (0.0976, 10.54), 'CSTB': (0.0224, 10.08),
    'LEG1': (0.0603, 9.92), 'SCGB2A1': (0.1034, 9.70), 'GBP6': (0.0421, 9.40),
    'ADH7': (0.0743, 9.14), 'PI15': (0.0548, 8.28), 'BPIFB2': (0.0733, 8.34),
    'MUCL1': (0.1024, 7.78), 'BPIFB1': (0.0776, 7.49), 'FLG2': (0.0558, 6.89),
    'SCGB3A2': (0.0873, 5.83), 'SFTPA2': (0.0632, 3.67),
}
rhesus_segments = [((-0.0654, 11.20), (-0.0591, 11.52)), ((0.0320, 10.10), (0.0404, 10.12)),
                   ((0.0673, 10.74), (0.0712, 10.44))]

W, H = 669, 731
GRID = '#ebebeb'
TICKC = '#4d4d4d'


def px_axes(fig, left, top, right, bottom):
    return fig.add_axes([left / W, 1 - bottom / H, (right - left) / W, (bottom - top) / H])


def style_axes(ax, tick_size):
    for sp in ax.spines.values():
        sp.set_color('#333333')
        sp.set_linewidth(0.8)
    ax.set_axisbelow(True)
    ax.grid(True, which='major', color=GRID, lw=0.9)
    ax.grid(True, which='minor', color=GRID, lw=0.45)
    ax.tick_params(which='major', length=3, width=0.7, color='#333333',
                   labelsize=tick_size, labelcolor=TICKC, pad=2)
    ax.tick_params(which='minor', length=0)


fig = plt.figure(figsize=(W / 100, H / 100), dpi=100)

# main PCA
ax = px_axes(fig, 118, 7, 446, 341)
for g in ga_levels:
    ax.scatter(human_pc1[g], human_pc2[g], marker='o', s=42, c=ga_colors[g],
               edgecolors='black', linewidths=0.8, zorder=3)
    ax.scatter(rhesus_pc1[g], rhesus_pc2[g], marker='^', s=58, c=ga_colors[g],
               edgecolors='black', linewidths=0.8, zorder=3)
ax.set_xlim(-39, 36.8)
ax.set_ylim(-28.7, 26.6)
ax.xaxis.set_major_locator(MultipleLocator(20))
ax.xaxis.set_minor_locator(MultipleLocator(10))
ax.yaxis.set_major_locator(MultipleLocator(10))
ax.yaxis.set_minor_locator(MultipleLocator(5))
style_axes(ax, 7.5)
ax.set_xlabel('PC1', fontsize=10, labelpad=2)
ax.set_ylabel('PC2', fontsize=10, labelpad=2)

# GA vs PC1, human
ax = px_axes(fig, 509, 4, 647, 147)
for g in ga_levels:
    ax.scatter(hs_ga_pc1[g], hs_ga_days[g], marker='o', s=14, c=ga_colors[g],
               edgecolors='black', linewidths=0.5, zorder=3)
ax.set_xlim(-26.3, 36.7)
ax.set_ylim(129.5, 226.8)
ax.xaxis.set_major_locator(MultipleLocator(20))
ax.xaxis.set_minor_locator(MultipleLocator(10))
ax.yaxis.set_major_locator(MultipleLocator(25))
ax.yaxis.set_minor_locator(MultipleLocator(12.5))
style_axes(ax, 7.5)
ax.set_xlabel('PC1', fontsize=9, labelpad=1)
ax.set_ylabel('Gestational Age (days)', fontsize=8.5, labelpad=2)

# GA vs PC1, rhesus
ax = px_axes(fig, 509, 193, 647, 336)
for g in ga_levels:
    ax.scatter(rh_ga_pc1[g], rh_ga_days[g], marker='^', s=20, c=ga_colors[g],
               edgecolors='black', linewidths=0.5, zorder=3)
ax.set_xlim(-38.9, 23.2)
ax.set_ylim(81.7, 141.4)
ax.xaxis.set_major_locator(MultipleLocator(20))
ax.xaxis.set_minor_locator(MultipleLocator(10))
ax.yaxis.set_major_locator(MultipleLocator(20))
ax.yaxis.set_minor_locator(MultipleLocator(10))
style_axes(ax, 7.5)
ax.set_xlabel('PC1', fontsize=9, labelpad=1)
ax.set_ylabel('Gestational Age (days)', fontsize=8.5, labelpad=2)

# legends
sp_handles = [Line2D([], [], marker='o', ls='', color='black', markersize=5),
              Line2D([], [], marker='^', ls='', color='black', markersize=5.5)]
fig.legend(sp_handles, ['human', 'rhesus'], title='species', loc='upper left',
           bbox_to_anchor=(-0.004, 1 - 84 / H), frameon=False, fontsize=7,
           title_fontsize=9.5, alignment='left', labelspacing=1.25,
           handlelength=1.0, handletextpad=1.2, borderpad=0.2)
ga_handles = [Line2D([], [], marker='o', ls='', markerfacecolor=ga_colors[g],
                     markeredgecolor='black', markeredgewidth=0.9, markersize=6)
              for g in ga_levels]
fig.legend(ga_handles, ga_levels, title='GA', loc='upper left',
           bbox_to_anchor=(-0.004, 1 - 176 / H), frameon=False, fontsize=7,
           title_fontsize=9.5, alignment='left', labelspacing=1.2,
           handlelength=1.0, handletextpad=1.2, borderpad=0.2)


def volcano(ax, down, up, ns, genes, label_pos, segments):
    for pts, col, a, s in ((ns, 'black', 0.75, 11), (down, '#0000ff', 0.6, 8.5),
                           (up, '#ff0000', 0.6, 8.5)):
        arr = np.array(pts)
        ax.scatter(arr[:, 0], arr[:, 1], s=s, c=col, alpha=a, linewidths=0, zorder=3)
    for (x0, y0), (x1, y1) in segments:
        ax.plot([x0, x1], [y0, y1], color='black', lw=0.6, zorder=4)
    for g in genes:
        x, y = label_pos[g]
        ax.text(x, y, g, fontsize=6.3, ha='center', va='center', color='#222222', zorder=5)


# panel b
ax = px_axes(fig, 49, 439, 316, 693)
volcano(ax, human_down, human_up, human_ns, human_genes, human_label_pos, human_segments)
ax.set_xlim(-0.0431, 0.0667)
ax.set_ylim(-0.55, 12.48)
ax.xaxis.set_major_locator(MultipleLocator(0.02))
ax.xaxis.set_minor_locator(MultipleLocator(0.01))
ax.yaxis.set_major_locator(MultipleLocator(2.5))
ax.yaxis.set_minor_locator(MultipleLocator(1.25))
ax.xaxis.set_major_formatter(FormatStrFormatter('%.2f'))
ax.yaxis.set_major_formatter(FormatStrFormatter('%.1f'))
style_axes(ax, 9)
ax.set_xlabel('logFC', fontsize=11, labelpad=1)
ax.set_ylabel('-log10_P.Value', fontsize=11, labelpad=2)

# panel c
ax = px_axes(fig, 392, 439, 668, 693)
volcano(ax, rhesus_down, rhesus_up, rhesus_ns, rhesus_genes, rhesus_label_pos, rhesus_segments)
ax.set_xlim(-0.0786, 0.1214)
ax.set_ylim(-0.64, 14.59)
ax.xaxis.set_major_locator(MultipleLocator(0.05))
ax.xaxis.set_minor_locator(MultipleLocator(0.025))
ax.yaxis.set_major_locator(MultipleLocator(5))
ax.yaxis.set_minor_locator(MultipleLocator(2.5))
ax.xaxis.set_major_formatter(FormatStrFormatter('%.2f'))
ax.yaxis.set_major_formatter(FormatStrFormatter('%d'))
style_axes(ax, 9)
ax.set_xlabel('logFC', fontsize=11, labelpad=1)
ax.set_ylabel('-log10_P.Value', fontsize=11, labelpad=2)

# panel letters and titles
fig.text(4 / W, 1 - 10 / H, 'a', fontsize=14, weight='bold', va='center', ha='left')
fig.text(3 / W, 1 - 423 / H, 'b', fontsize=14, weight='bold', va='center', ha='left')
fig.text(356 / W, 1 - 423 / H, 'c', fontsize=14, weight='bold', va='center', ha='left')
fig.text(50 / W, 1 - 423 / H, 'Human', fontsize=13, va='center', ha='left')
fig.text(392 / W, 1 - 423 / H, 'Rhesus', fontsize=13, va='center', ha='left')

fig.savefig('out.png', dpi=100)
